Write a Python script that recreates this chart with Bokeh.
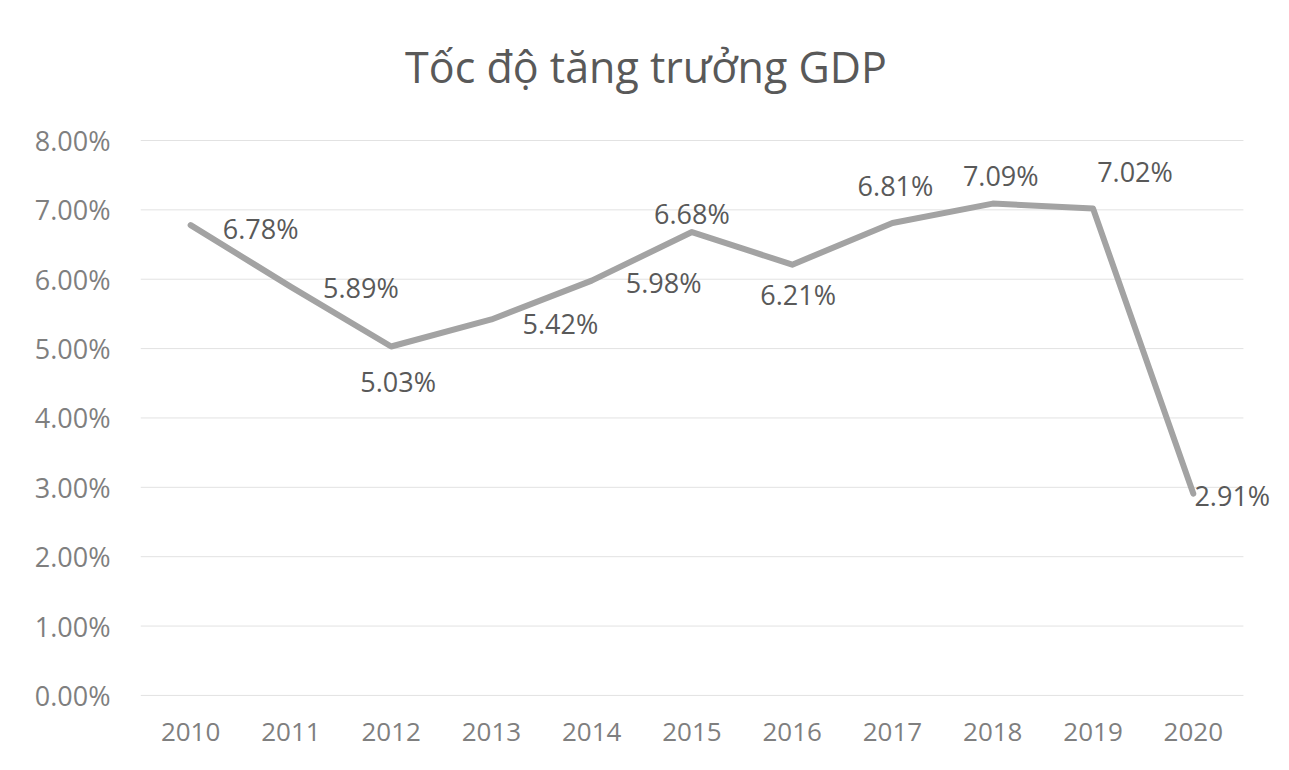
from bokeh.plotting import figure
from bokeh.models import Range1d, FixedTicker, PrintfTickFormatter, ColumnDataSource, Label, LabelSet
from bokeh.core.properties import value
from bokeh.embed import file_html
from bokeh.resources import INLINE

# ---- data ----
years = ["2010", "2011", "2012", "2013", "2014", "2015", "2016", "2017", "2018", "2019", "2020"]
growth = [6.78, 5.89, 5.03, 5.42, 5.98, 6.68, 6.21, 6.81, 7.09, 7.02, 2.91]
y_ticks = [0, 1, 2, 3, 4, 5, 6, 7, 8]
title_text = "Tốc độ tăng trưởng GDP"

# label placement (pixels, style only; dy positive = up)
label_dx = [70, 70, 7, 69, 72, 0, 6, 3, 8, 42, 39]
label_dy = [-3, -1, -35, -4, -2, 19, -30, 38, 28, 37, -2]

FONT = "Open Sans"

n = len(years)
xs = list(range(n))

p = figure(width=1278, height=758,
           x_range=Range1d(-0.5, n - 0.5 + 0.32), y_range=Range1d(-0.03, 9.6),
           output_backend="svg", toolbar_location=None,
           min_border_left=140, min_border_right=3, min_border_top=29, min_border_bottom=61)
p.background_fill_color = "white"
p.border_fill_color = "white"
p.outline_line_color = None

# horizontal gridlines spanning the category band only
p.segment(x0=[-0.5] * len(y_ticks), x1=[n - 0.5] * len(y_ticks), y0=y_ticks, y1=y_ticks,
          line_color="#e2e2e2", line_width=1)

src = ColumnDataSource(dict(x=xs, y=growth,
                            lbl=[f"{v:.2f}%" for v in growth],
                            dx=label_dx, dy=label_dy))
p.line("x", "y", source=src, line_color="#a3a3a3", line_width=6, line_join="round", line_cap="round")

p.add_layout(LabelSet(x="x", y="y", text="lbl", source=src, x_offset="dx", y_offset="dy",
                      text_align="center", text_baseline="middle",
                      text_font=value(FONT), text_font_size="27px", text_color="#595959"))

# chart title, placed above the plot area
p.add_layout(Label(x=(n - 1) / 2, y=y_ticks[-1], text=title_text, x_offset=-46, y_offset=74,
                   text_align="center", text_baseline="middle",
                   text_font=FONT, text_font_size="43px", text_color="#595959"))

p.xaxis.ticker = FixedTicker(ticks=xs)
p.xaxis.major_label_overrides = {x: y for x, y in zip(xs, years)}
p.yaxis.ticker = FixedTicker(ticks=y_ticks)
p.yaxis.formatter = PrintfTickFormatter(format="%.2f%%")
for ax in (p.xaxis[0], p.yaxis[0]):
    ax.axis_line_color = None
    ax.major_tick_line_color = None
    ax.minor_tick_line_color = None
    ax.major_label_text_font = FONT
    ax.major_label_text_color = "#7f7f7f"
p.yaxis.major_label_text_font_size = "27px"
p.xaxis.major_label_text_font_size = "26px"
p.yaxis.major_label_standoff = 24
p.xaxis.major_label_standoff = 19

p.xgrid.grid_line_color = None
p.ygrid.grid_line_color = None

open("out.html", "w").write(file_html(p, INLINE))
